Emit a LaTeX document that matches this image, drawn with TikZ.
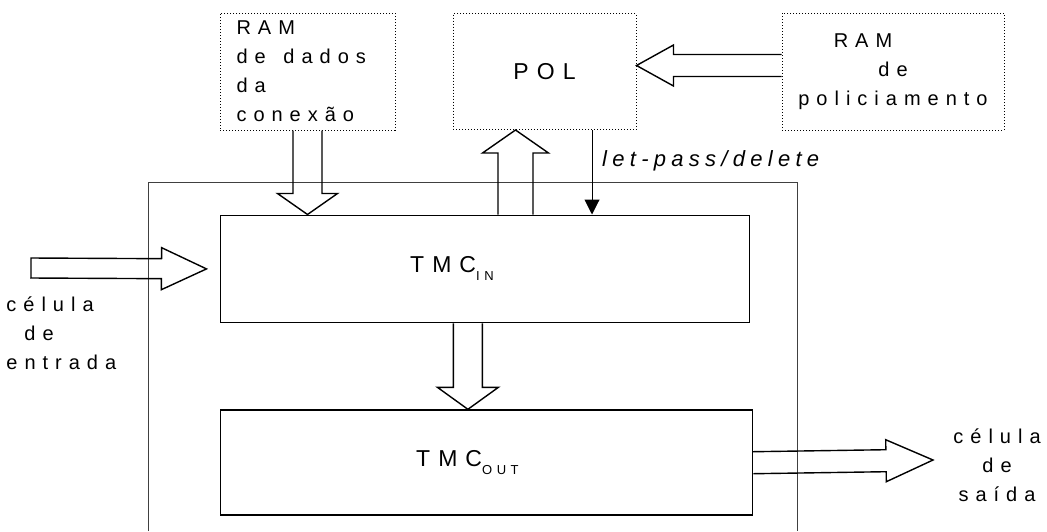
\documentclass[tikz,border=0pt]{standalone}
\usepackage{fontspec}
\setmainfont{Liberation Sans}[LetterSpace=35]
\usepackage{tikz}
\usetikzlibrary{arrows.meta,calc,positioning}
\newcommand{\hollowarrow}[6][]{%
  \draw[hollow] let \p1=(#2), \p2=(#3),
    \n1={atan2(\y2-\y1,\x2-\x1)}, \n2={veclen(\x2-\x1,\y2-\y1)} in
    [shift={(\p1)},rotate=\n1]
    (0pt,#4) -- ({\n2*1pt-#6},#4) -- ({\n2*1pt-#6},#5) -- ({\n2*1pt},0pt)
    -- ({\n2*1pt-#6},-#5) -- ({\n2*1pt-#6},-#4) -- (0pt,-#4) #1;
}
\tikzset{
  dotbox/.style={draw,densely dotted,line width=0.5pt,minimum height=58.5pt,inner sep=0pt,font=\fontsize{10}{14.5}\selectfont},
  tmcbox/.style={draw,line width=0.9pt,inner sep=0pt,font=\fontsize{11.5}{14}\selectfont},
  hollow/.style={line width=0.7pt,line join=miter},
  signal/.style={-{Triangle[length=7.5pt,width=7.5pt]},line width=0.5pt},
  frameline/.style={draw=black!75,line width=0.45pt},
  cellabel/.style={inner sep=0pt,font=\fontsize{10}{14.5}\selectfont}
}
\newcommand{\sub}[1]{\raisebox{-4pt}{\fontsize{6.5}{7}\selectfont #1}}
\begin{document}
\begin{tikzpicture}[x=0.5pt,y=-0.5pt]
  \useasboundingbox (0,0) rectangle (1047,531);
  % memory blocks and policing unit
  \node[dotbox,text width=71pt,inner xsep=8.25pt,align=left] (ramdados) at (307.5,71.5) {RAM\\\makebox[23.5pt][l]{de}dados\\da\\conexão};
  \node[dotbox,minimum width=91.5pt,minimum height=58pt,font=\fontsize{11.5}{14}\selectfont,right=28.5pt of ramdados] (pol) {POL};
  \node[dotbox,minimum width=111pt,align=center,right=72.5pt of pol] (rampol) {RAM\hspace*{30pt}\\de\\policiamento};
  % traffic management blocks
  \node[tmcbox,minimum width=264.5pt,minimum height=53.5pt,anchor=north west] (tmcin) at ([yshift=-42pt]ramdados.south west) {TMC\sub{IN}\hspace*{33pt}};
  \node[tmcbox,minimum width=266pt,minimum height=52.5pt,anchor=north west] (tmcout) at ([yshift=-43pt]tmcin.south west) {TMC\sub{OUT}\hspace*{19pt}};
  \draw[frameline] (148,531) -- (148,182) -- (797,182) -- (797,531);
  % cell labels
  \node[cellabel,align=left,anchor=north west] (entlabel) at (6,296) {célula\\\hspace*{9pt}de\\entrada};
  \node[cellabel,align=center] (saidalabel) at (997,465) {célula\\de\\saída};
  \coordinate (cellin) at (31,268);
  \coordinate (cellout) at (933,460);
  \coordinate (polfoot) at ([xshift=-14.5pt]pol.south);
  \coordinate (tmcfoot) at ([xshift=-8.5pt]tmcin.south);
  \coordinate (polside) at ([yshift=3pt]pol.east);
  \coordinate (gate) at ([xshift=23.75pt]pol.south);
  % block arrows
  \hollowarrow[-- cycle]{cellin}{[xshift=-6.5pt]tmcin.west}{5pt}{10.5pt}{22.5pt}
  \hollowarrow{ramdados.south}{tmcin.north -| ramdados.south}{7.25pt}{15pt}{10.5pt}
  \hollowarrow{tmcin.north -| polfoot}{polfoot}{8.75pt}{16.5pt}{11.5pt}
  \hollowarrow{rampol.west |- polside}{polside}{5.5pt}{10.25pt}{18.5pt}
  \hollowarrow{tmcfoot}{tmcout.north -| tmcfoot}{7.25pt}{15.25pt}{11pt}
  \hollowarrow{tmcout.east}{cellout}{5.5pt}{10.5pt}{23.5pt}
  % decision signal
  \draw[signal] (gate) -- node[pos=0.37,right,xshift=1.5pt,font=\fontsize{11}{13}\itshape\addfontfeature{LetterSpace=24}\selectfont] (passlabel) {let-pass/delete} (gate |- tmcin.north);
\end{tikzpicture}
\end{document}
